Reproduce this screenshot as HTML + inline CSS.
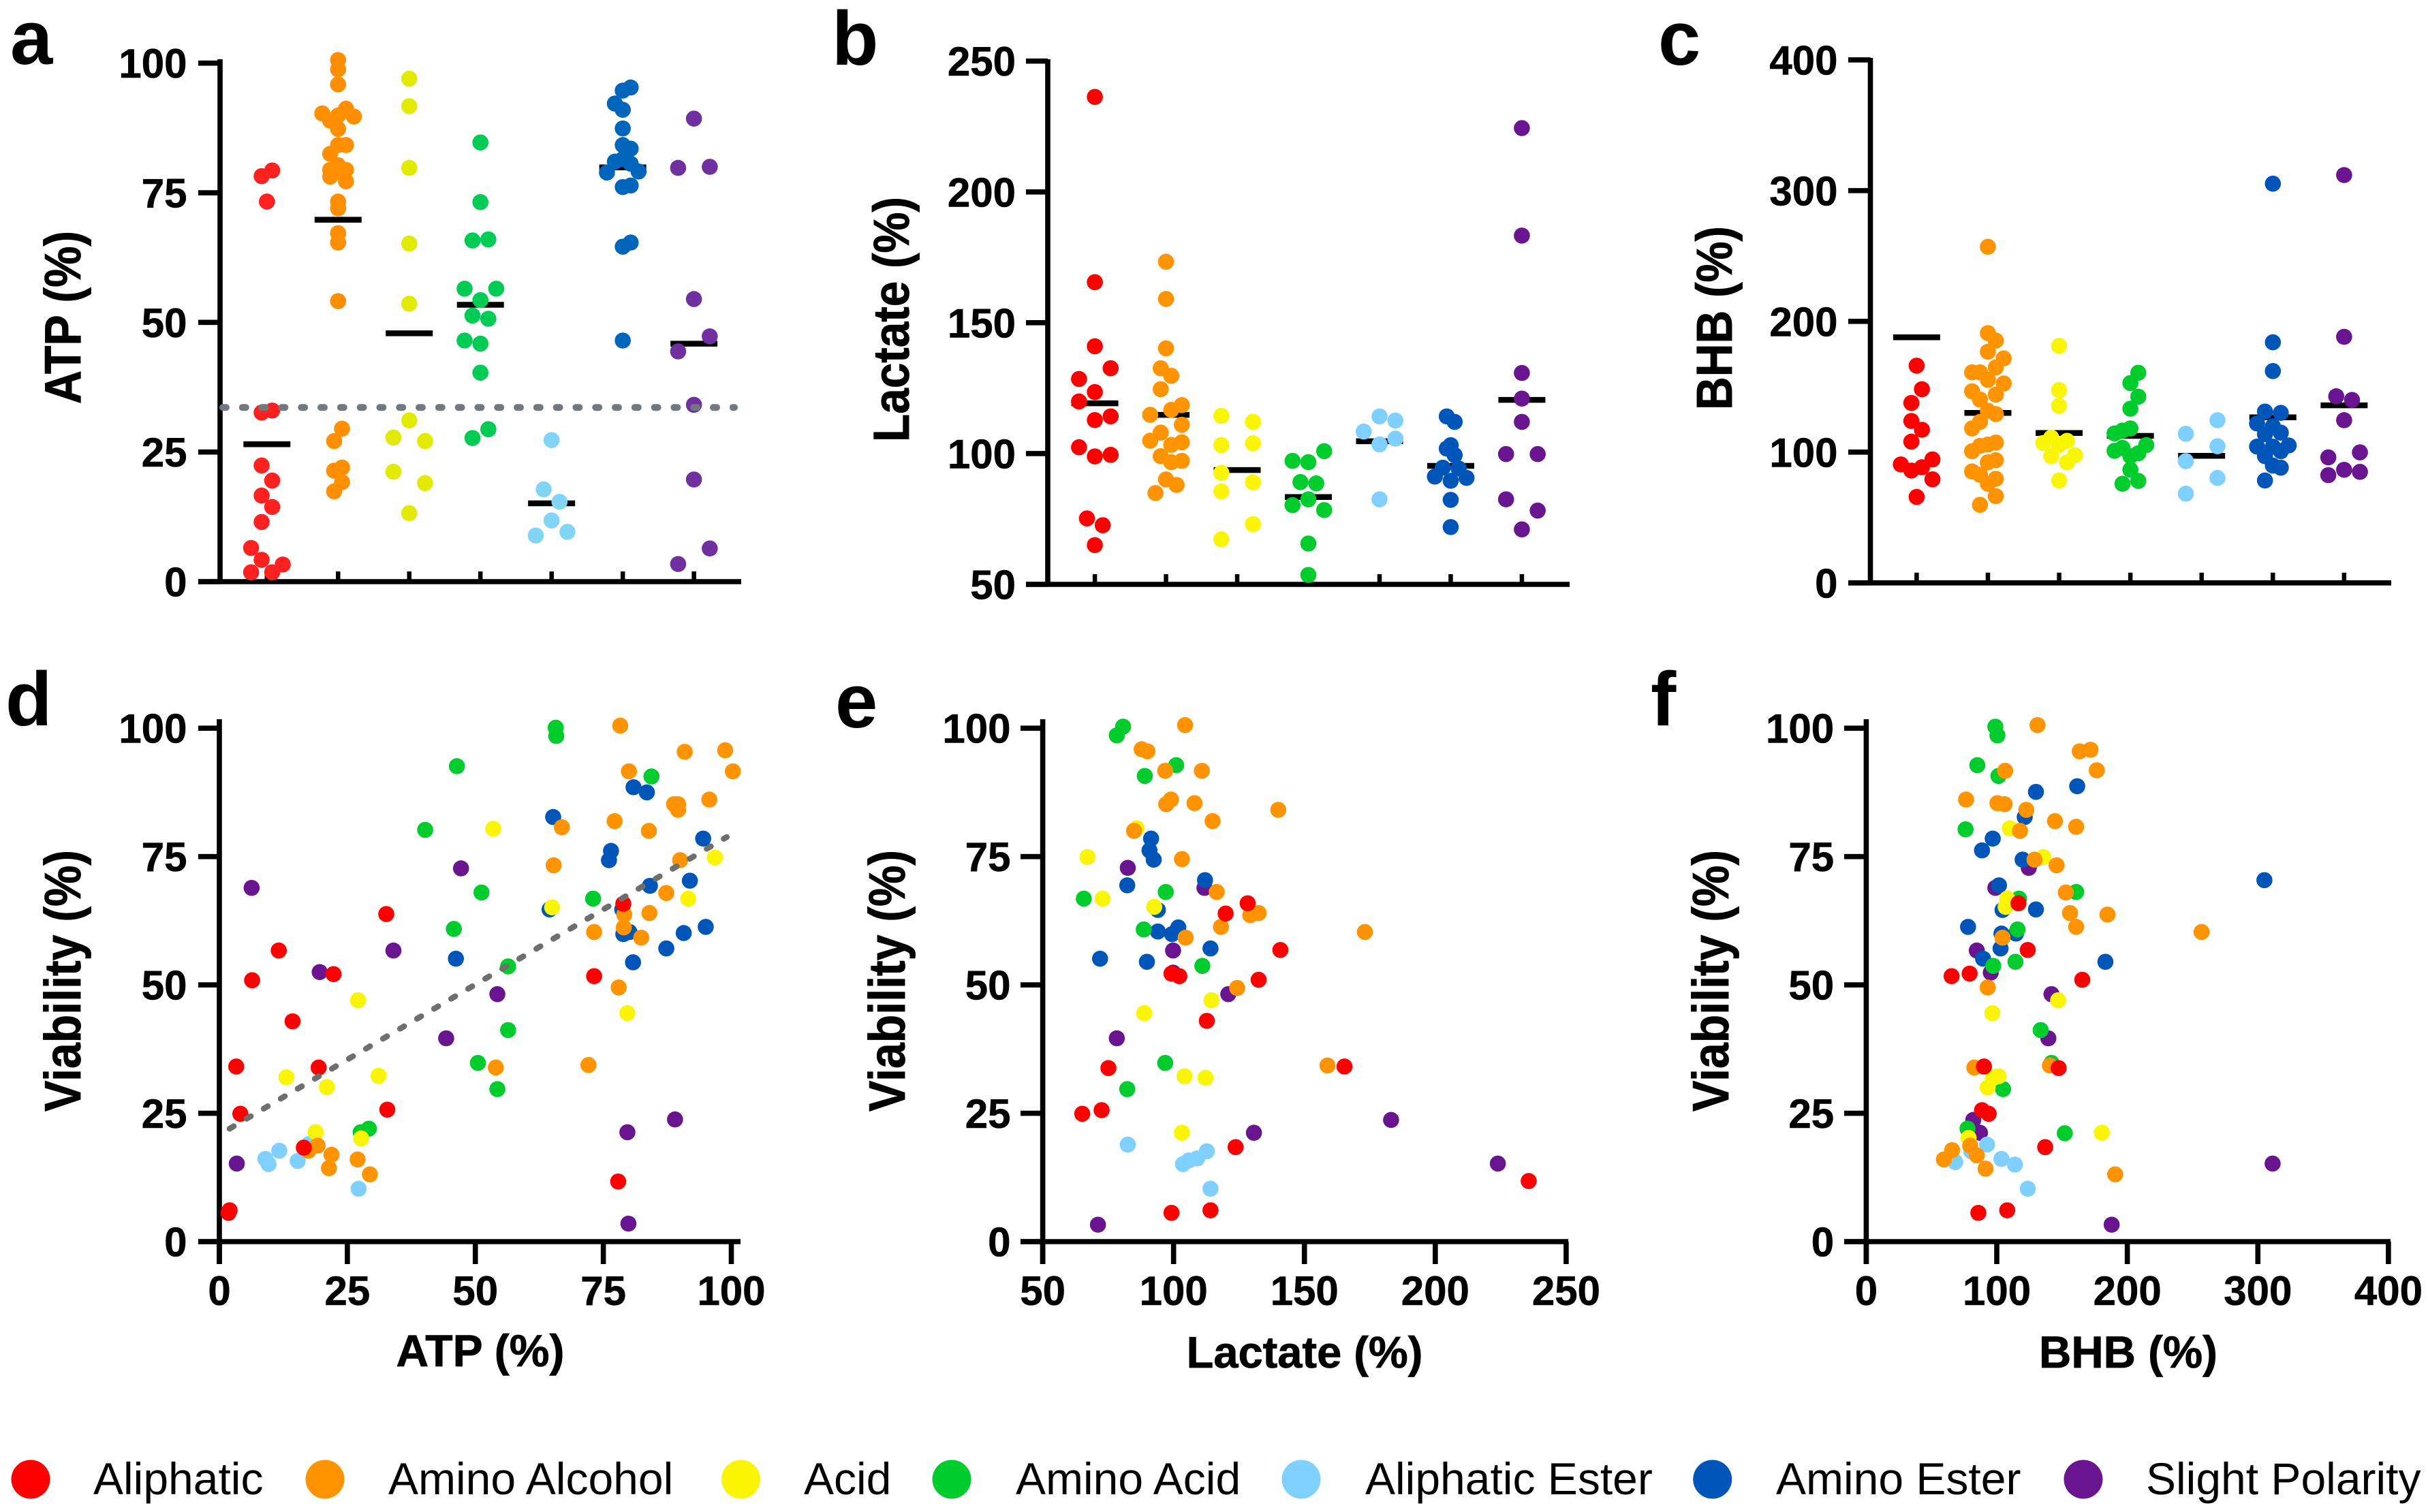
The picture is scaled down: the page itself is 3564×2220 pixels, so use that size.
<!DOCTYPE html>
<html lang="en">
<head>
<meta charset="utf-8">
<title>Viability, ATP, Lactate and BHB by lipid class</title>
<style>
html,body{margin:0;padding:0;background:#fff;}
svg{display:block;font-family:"Liberation Sans",Arial,sans-serif;}
.title{font-weight:700;font-size:68px;fill:#000;stroke:#000;stroke-width:.8px;}
.letter{font-weight:700;font-size:112px;fill:#000;}
.legend-text{font-size:66px;fill:#000;}
</style>
</head>
<body>
<svg id="figure" xmlns="http://www.w3.org/2000/svg" width="3564" height="2220" viewBox="0 0 3564 2220">
  <rect x="0" y="0" width="3564" height="2220" fill="#fff"/>

  <text class="letter" x="15" y="94">a</text>
  <text class="letter" x="1221" y="95">b</text>
  <text class="letter" x="2434" y="95">c</text>
  <text class="letter" x="8" y="1065">d</text>
  <text class="letter" x="1226" y="1068">e</text>
  <text class="letter" x="2423" y="1065">f</text>

  <text class="title" text-anchor="middle" transform="translate(118,466) rotate(-90) scale(1,1.1)">ATP (%)</text>
  <text class="title" text-anchor="middle" transform="translate(1334,469) rotate(-90) scale(1,1.1)" style="font-size:67.5px">Lactate (%)</text>
  <text class="title" text-anchor="middle" transform="translate(2542,467) rotate(-90) scale(1,1.1)" style="font-size:67.5px">BHB (%)</text>
  <text class="title" text-anchor="middle" transform="translate(118,1440) rotate(-90) scale(1,1.1)">Viability (%)</text>
  <text class="title" text-anchor="middle" transform="translate(1328,1440) rotate(-90) scale(1,1.1)">Viability (%)</text>
  <text class="title" text-anchor="middle" transform="translate(2537,1440) rotate(-90) scale(1,1.1)">Viability (%)</text>
  <text class="title" text-anchor="middle" x="705" y="2006" style="font-size:66px">ATP (%)</text>
  <text class="title" text-anchor="middle" x="1915" y="2008" style="font-size:65px">Lactate (%)</text>
  <text class="title" text-anchor="middle" x="3124" y="2008" style="font-size:65.5px">BHB (%)</text>

  <g id="plots"></g>

  <g>
    <g><circle cx="45" cy="2172" r="28.5" fill="#ff0000"/><text class="legend-text" x="137" y="2194">Aliphatic</text></g>
    <g><circle cx="477" cy="2172" r="28.5" fill="#ff9300"/><text class="legend-text" x="570" y="2194">Amino Alcohol</text></g>
    <g><circle cx="1087.5" cy="2172" r="28.5" fill="#faf500"/><text class="legend-text" x="1180" y="2194">Acid</text></g>
    <g><circle cx="1397" cy="2172" r="28.5" fill="#00cc2e"/><text class="legend-text" x="1491" y="2194">Amino Acid</text></g>
    <g><circle cx="1910" cy="2172" r="28.5" fill="#80d0ff"/><text class="legend-text" x="2004" y="2194">Aliphatic Ester</text></g>
    <g><circle cx="2513.7" cy="2172" r="28.5" fill="#0056b8"/><text class="legend-text" x="2607" y="2194">Amino Ester</text></g>
    <g><circle cx="3058" cy="2172" r="28.5" fill="#6a1590"/><text class="legend-text" x="3150" y="2194">Slight Polarity</text></g>
  </g>
</svg>

<script>
// ---------- shared categories and tick labels ----------
const classNames = ['aliphatic','amino-alcohol','acid','amino-acid','aliphatic-ester','amino-ester','slight-polarity'];
const atpTicks = [0,25,50,75,100];
const lactateTicks = [50,100,150,200,250];
const bhbTicks = [0,100,200,300,400];
const viabilityTicks = [0,25,50,75,100];

// ---------- panel a: ATP by class (values, then swarm slot of each point) ----------
const atpAliphatic = [79.3,78.2,73.3,33.0,32.6,22.4,19.5,16.6,14.4,11.5,6.5,4.2,3.3,1.8,1.8];
const atpAliphaticSlots = [2,-2,0,2,-2,-2,2,-2,2,-2,-6,-2,6,-6,2];
const atpAminoAlcohol = [100.6,98.8,95.9,91.2,90.3,89.9,89.7,88.9,87.3,84.2,84.2,82.5,80.3,79.4,79.4,79.1,78.1,77.2,73.3,72,67.2,65.4,54.1,29.5,27.1,22,21.4,19.2,17.4];
const atpAminoAlcoholSlots = [0,0,0,3,-6,0,6,-3,0,0,3,-3,0,3,-3,0,-3,3,0,0,0,0,0,1.5,-1.5,1.5,-1.5,1.5,-1.5];
const atpAcid = [97,91.7,79.8,65.2,53.6,31.1,27.8,27.1,21.2,19,13.2];
const atpAcidSlots = [0,0,0,0,0,0,-6,6,-6,6,0];
const atpAminoAcid = [84.7,73.2,65.8,66,56.5,56.5,54.3,51.3,50.7,46.5,45.9,40.3,29.4,27.7];
const atpAminoAcidSlots = [0,0,-3,3,-6,6,0,-3,3,-6,0,0,3,-3];
const atpAliphaticEster = [27.3,17.8,15.4,11.8,9.6,8.9];
const atpAliphaticEsterSlots = [0,-3,3,0,6,-6];
const atpAminoEster = [95.3,94.7,92.2,91,87.4,84.2,83.5,81,80.6,81.5,79.1,78.9,76.4,76.1,65.4,64.6,46.5];
const atpAminoEsterSlots = [3,0,-3,0,0,0,3,-3,3,0,6,-6,3,0,3,0,0];
const atpSlightPolarity = [89.3,79.8,80,54.5,47.3,44.4,34.1,19.7,6.4,3.4];
const atpSlightPolaritySlots = [0,-6,6,0,6,-6,0,0,6,-6];
const atpMeans = [26.5,69.8,47.9,53.4,15.1,79.9,45.9];
const atpThreshold = [33.6];

// ---------- panel b: Lactate by class ----------
const lactateAliphatic = [236.3,165.5,141,132.6,128.5,123.5,119.9,114.2,112.8,102.4,99.5,98.9,75.2,72.6,65];
const lactateAliphaticSlots = [0,0,0,6,-6,0,-6,6,0,-6,6,0,-3,3,0];
const lactateAminoAlcohol = [173.3,159.1,140.2,132.6,129.7,124.6,118.5,116.7,114.8,111,108,104.9,104.3,103.3,99,97.2,96.7,90.1,88,84.9];
const lactateAminoAlcoholSlots = [0,0,0,-2,2,-2,6,2,-6,6,-2,-6,6,2,-2,6,2,0,4,-4];
const lactateAcid = [114.4,112.1,103.2,103.9,92.6,89,85.5,73,67.2];
const lactateAcidSlots = [-6,6,-6,6,-6,6,-6,6,-6];
const lactateAminoAcid = [100.9,97.2,96.7,89.1,88.6,82.5,80.3,78.4,65.6,53.6];
const lactateAminoAcidSlots = [6,-6,0,-3,3,0,-6,6,0,0];
const lactateAliphaticEster = [114.2,112.6,108.4,105.7,103.5,82.5];
const lactateAliphaticEsterSlots = [0,6,-6,6,0,0];
const lactateAminoEster = [114.2,112.1,103.2,101.9,99.4,94.6,94.3,91.2,90.7,89.6,82.3,71.9];
const lactateAminoEsterSlots = [-1.5,1.5,0,-1.5,1.5,-3,3,-6,6,0,0,0];
const lactateSlightPolarity = [224.4,183.3,130.8,121,112.1,99.8,99.8,82.5,78.2,71];
const lactateSlightPolaritySlots = [0,0,0,0,0,-6,6,-6,6,0];
const lactateMeans = [119.2,114.8,93.7,83.4,104.7,95.3,120.5];

// ---------- panel c: BHB by class ----------
const bhbAliphatic = [166.1,148.1,137.6,123.8,117.1,108,94.4,90.6,88.4,85.9,79.2,65.7];
const bhbAliphaticSlots = [0,2,-2,-2,2,-2,6,-6,2,-2,6,0];
const bhbAminoAlcohol = [257,191,185.3,176.8,171.7,164.8,161,161,155.3,152.5,146.5,144,140.2,131.6,129.1,123.1,118.1,107.3,105.8,104.8,100.7,93.8,92.2,85.2,82.7,79.6,75.8,66.3,59.7];
const bhbAminoAlcoholSlots = [0,0,3,0,6,3,-3,-6,0,6,-6,3,-3,0,3,-3,-6,3,0,-3,-6,3,0,-6,-3,3,0,3,-3];
const bhbAcid = [181.2,147.4,135.4,111.1,108.6,107,105.4,97.6,96.9,92.2,78.3];
const bhbAcidSlots = [0,0,0,-3,3,-6,0,6,-3,3,0];
const bhbAminoAcid = [160.7,152.8,142.4,133.2,118.1,116.5,114.3,103.2,101,105.4,99.1,96.9,86.5,78,75.8];
const bhbAminoAcidSlots = [3,0,3,0,0,-3,-6,-3,-6,6,3,0,0,3,-3];
const bhbAliphaticEster = [124.4,114,104.5,93.1,80.2,68.2];
const bhbAliphaticEsterSlots = [6,-6,6,-6,6,-6];
const bhbAminoEster = [305.3,184,162,131,130,121.9,119.7,114.9,113.7,105.1,104.2,104.2,100.7,96.9,89.7,88.1,78.3];
const bhbAminoEsterSlots = [0,0,0,-3,3,-6,0,3,-3,6,-6,0,3,-3,0,3,-3];
const bhbSlightPolarity = [311.9,188.2,142.7,139.9,124.4,99.8,96,86.5,84.9,82.4];
const bhbSlightPolaritySlots = [0,0,-3,3,0,6,-6,0,6,-6];
const bhbMeans = [187.8,130,114.6,112.4,97.2,126.6,135.8];

// ---------- panel d: viability vs ATP ----------
const dAliphaticX = [1.8,2,77.9,3.3,4.1,6.4,11.6,14.3,16.5,19.4,22.3,32.6,32.8,73.2,78.9];
const dAliphaticY = [5.6,6.1,11.7,34.1,24.9,50.9,56.7,42.9,18.3,33.9,52.1,63.8,25.7,51.7,65.8];
const dAminoAlcoholX = [78.3,90.9,98.8,100.3,80,88.8,89.6,89.6,95.7,83.9,77.2,66.9,65.3,90,87.3,84,79.1,79,73.2,82.4,78,72.1,54,19.2,17.4,21.9,27,21.4,29.4];
const dAminoAlcoholY = [100.5,95.4,95.7,91.6,91.6,85.2,85.2,84.1,86.1,80,81.9,80.7,73.3,74.3,67.9,64,63.7,61.2,60.3,59.2,49.5,34.4,33.9,18.7,17.7,16.9,16,14.3,13.1];
const dAcidX = [53.5,96.8,91.6,65,27.1,79.7,13.1,31.1,21,18.8,27.7];
const dAcidY = [80.4,74.8,66.8,65.1,47,44.5,32,32.3,30.1,21.3,20.1];
const dAminoAcidX = [65.7,65.8,46.4,84.4,40.2,51.2,73,45.8,56.4,56.4,50.5,54.3,29.2,27.6];
const dAminoAcidY = [100.1,98.5,92.6,90.6,80.2,68,66.8,60.9,53.6,41.2,34.8,29.7,22,21.3];
const dAliphaticEsterX = [17.5,11.7,9,9.6,15.3,27.2];
const dAliphaticEsterY = [19,17.7,16.1,15.1,15.7,10.3];
const dAminoEsterX = [80.9,83.5,65.2,94.5,76.5,76.1,91.9,84.1,64.5,78.7,95,90.7,80.1,78.9,87.3,46.2,80.8];
const dAminoEsterY = [88.5,87.5,82.7,78.5,76.1,74.3,70.3,69.3,64.7,64.7,61.3,60.1,60.3,59.9,57.1,55.1,54.4];
const dSlightPolarityX = [6.3,47.2,34,19.6,54.3,44.3,89,79.7,3.4,79.9];
const dSlightPolarityY = [68.9,72.7,56.7,52.5,48.2,39.6,23.8,21.3,15.2,3.5];
const dFitX = [2,99.1];
const dFitY = [22,78.8];

// ---------- panel e: viability vs Lactate ----------
const eAliphaticX = [235.7,165.3,140.8,128.3,132.5,119.9,123.7,112.7,102.2,99.2,75.1,72.5,65.1,114.1,99.2];
const eAliphaticY = [11.8,34.1,56.8,65.9,51,63.9,18.4,43,51.7,52.2,33.8,25.6,24.9,6.1,5.6];
const eAminoAlcoholX = [104.4,87.8,90,110.8,96.8,99,97.2,108,140,114.9,84.9,103.2,116.5,132.5,129.3,118.1,173.1,104.6,124.3,158.8];
const eAminoAlcoholY = [100.6,95.9,95.5,91.7,91.7,86.1,85.2,85.4,84.1,81.9,80,74.5,68.1,64,63.6,61.3,60.3,59.2,49.4,34.3];
const eAcidX = [85.9,67.1,72.9,92.6,114.5,88.8,104.2,112.2,103.2];
const eAcidY = [80.5,74.9,66.8,65.2,47,44.5,32.2,31.9,21.2];
const eAminoAcidX = [80.7,78.3,101,89,97,65.7,88.6,111,96.8,82.3];
const eAminoAcidY = [100.3,98.6,92.8,90.7,68.1,66.8,60.8,53.7,34.8,29.7];
const eAliphaticEsterX = [82.5,112.7,109,105.8,103.6,114.1];
const eAliphaticEsterY = [18.9,17.6,16.2,15.8,15.1,10.3];
const eAminoEsterX = [91.4,90.8,92.4,82.3,112,94,101.8,94,99.4,114.1,71.9,89.8];
const eAminoEsterY = [78.5,76.2,74.4,69.4,70.4,64.6,61.2,60.4,59.9,57.1,55.1,54.5];
const eSlightPolarityX = [82.5,111.8,99.8,99.8,120.9,78.3,183.1,130.7,223.9,71.1];
const eSlightPolarityY = [72.8,68.9,56.7,52.4,48.2,39.6,23.7,21.2,15.2,3.3];

// ---------- panel f: viability vs BHB ----------
const fAliphaticX = [116.6,123.7,165.5,65.4,79.2,90.2,147.4,88.7,93.8,137.1,85.9,108];
const fAliphaticY = [65.9,56.8,51,51.7,52.2,34.1,33.8,25.6,24.9,18.4,5.6,6.1];
const fAminoAlcoholX = [131.2,163.5,171.8,106.4,176.6,76.5,100.5,106,122.6,144.6,160.8,117.8,128.9,145.8,152.9,156.1,184.8,160.8,256.9,104.4,93,82.8,140.7,79.6,65.8,84.7,59.5,91.4,190.7];
const fAminoAlcoholY = [100.6,95.5,95.8,91.7,91.8,86.1,85.4,85.2,84.1,81.9,80.8,80,74.4,73.3,68,64,63.7,61.3,60.3,59.2,49.5,33.9,34.3,18.7,17.8,16.8,16,14.2,13.1];
const fAcidX = [110,135.6,108,106.8,147,96.6,101.3,97.3,93,180.5,78.4];
const fAcidY = [80.5,74.9,66.8,65.2,47,44.5,32.2,31.9,30,21.2,20.2];
const fAminoAcidX = [98.9,100.5,85.1,101.3,76.1,160.8,117,115.9,114.3,97.3,133.6,141.9,104.8,77.6,152.1];
const fAminoAcidY = [100.3,98.6,92.8,90.7,80.3,68.1,66.8,60.8,54.5,53.7,41.2,34.8,29.7,22,21.1];
const fAliphaticEsterX = [92.6,80.4,103.6,113.9,68.2,123.7];
const fAliphaticEsterY = [18.9,17.6,16.1,15,15.5,10.3];
const fAminoEsterX = [161.6,130,121.4,96.9,88.7,119.8,305,101.7,130,104.4,78,103.6,114.7,102.9,89.5,183.2];
const fAminoEsterY = [88.7,87.6,82.7,78.5,76.2,74.4,70.4,69.4,64.7,64.6,61.3,60,60,57.1,55.1,54.5];
const fSlightPolarityX = [124.5,98.9,84.7,95.4,141.9,139.5,82,87.1,311.3,188];
const fSlightPolarityY = [72.8,68.9,56.7,52.4,48.2,39.6,23.7,21.2,15.2,3.3];

// ---------- drawing ----------
const NS = 'http://www.w3.org/2000/svg';
const plots = document.getElementById('plots');
const paletteTopLeft = ['#ff2020','#ff8f00','#e2ea00','#00cc55','#82d5f5','#0066bb','#7030a0'];
const palette = ['#ff0000','#ff9300','#faf500','#00cc2e','#80d0ff','#0056b8','#6a1590'];
const SW = 7.6, DOT = 11.8, SLOT = 3.87, MEAN_HALF = 34.5, MEAN_W = 8.5;
const DRAW_ORDER = [6,5,4,3,2,1,0];

function linear(d0, d1, r0, r1) {
  return function (v) { return r0 + (v - d0) * (r1 - r0) / (d1 - d0); };
}
function shape(tag, attrs, parent) {
  const el = document.createElementNS(NS, tag);
  for (const k in attrs) el.setAttribute(k, attrs[k]);
  
  (parent || plots).appendChild(el);
  return el;
}
function line(x1, y1, x2, y2, parent, width, color) {
  return shape('line', {x1: x1, y1: y1, x2: x2, y2: y2, stroke: color || '#000', 'stroke-width': width || SW}, parent);
}
function label(str, x, y, anchor, parent) {
  const el = shape('text', {x: x, y: y, 'text-anchor': anchor, 'font-size': 60, 'font-weight': 700, fill: '#000', stroke: '#000', 'stroke-width': 0.6}, parent);
  el.textContent = str;
  return el;
}
function group(name) {
  const g = shape('g', {});
  
  return g;
}
function yAxis(g, sy, ticks, x, left, top, bottom, labelRight) {
  const axis = line(x, top, x, bottom, g);
  
  ticks.forEach(function (t) {
    const tk = line(left, sy(t), x, sy(t), g);
    
    const tl = label(String(t), labelRight + 2.5, sy(t) + 21.5, 'end', g);
    
  });
}
function swarmPanel(name, ticks, d0, d1, px0, px1, axisX, tickLeft, axisTop, axisRight, labelRight, firstCenter, step, means, values, slots, colors) {
  const g = group(name);
  const sy = linear(d0, d1, px0, px1);
  const cx = function (i) { return firstCenter + i * step; };
  yAxis(g, sy, ticks, axisX, tickLeft, axisTop, px0 + 3.5, labelRight);
  const xAxis = line(tickLeft, px0, axisRight, px0, g);
  
  classNames.forEach(function (c, i) {
    const tk = line(cx(i), px0, cx(i), px0 - 15, g, 6.5);
    
  });
  means.forEach(function (m, i) {
    const bar = line(cx(i) - MEAN_HALF, sy(m), cx(i) + MEAN_HALF, sy(m), g, MEAN_W);
    
  });
  DRAW_ORDER.forEach(function (i) {
    values[i].forEach(function (v, j) {
      const dot = shape('circle', {cx: cx(i) + slots[i][j] * SLOT, cy: sy(v), r: DOT, fill: colors[i]}, g);
      
    });
  });
  return {g: g, sy: sy};
}
function scatterPanel(name, xTicks, x0, x1, pxA, pxB, labelRight, tickLeft, axisRight, xs, ys) {
  const g = group(name);
  const sx = linear(x0, x1, pxA, pxB);
  const sy = linear(0, 100, 1823, 1069.2);
  yAxis(g, sy, viabilityTicks, pxA, tickLeft, 1056, 1856, labelRight);
  const xAxis = line(tickLeft, sy(0), axisRight, sy(0), g);
  
  xTicks.forEach(function (t) {
    const tk = line(sx(t), sy(0), sx(t), 1856, g);
    
    const tl = label(String(t), sx(t), 1916, 'middle', g);
    
  });
  DRAW_ORDER.forEach(function (i) {
    xs[i].forEach(function (v, j) {
      const dot = shape('circle', {cx: sx(v), cy: sy(ys[i][j]), r: DOT, fill: palette[i]}, g);
      
    });
  });
  return {g: g, sx: sx, sy: sy};
}

const panelA = swarmPanel('panel-a-atp', atpTicks, 0, 100, 854, 92.7, 323, 291, 87, 1088, 272, 391.8, 104.47, atpMeans,
  [atpAliphatic, atpAminoAlcohol, atpAcid, atpAminoAcid, atpAliphaticEster, atpAminoEster, atpSlightPolarity],
  [atpAliphaticSlots, atpAminoAlcoholSlots, atpAcidSlots, atpAminoAcidSlots, atpAliphaticEsterSlots, atpAminoEsterSlots, atpSlightPolaritySlots],
  paletteTopLeft);
const threshold = shape('line', {x1: 327, x2: 1078, y1: panelA.sy(atpThreshold[0]), y2: panelA.sy(atpThreshold[0]), stroke: '#737880', 'stroke-width': 10, 'stroke-linecap': 'round', 'stroke-dasharray': '5 23.8'}, panelA.g);


swarmPanel('panel-b-lactate', lactateTicks, 50, 250, 858, 89.7, 1538, 1506, 87, 2304, 1488.5, 1607.1, 104.47, lactateMeans,
  [lactateAliphatic, lactateAminoAlcohol, lactateAcid, lactateAminoAcid, lactateAliphaticEster, lactateAminoEster, lactateSlightPolarity],
  [lactateAliphaticSlots, lactateAminoAlcoholSlots, lactateAcidSlots, lactateAminoAcidSlots, lactateAliphaticEsterSlots, lactateAminoEsterSlots, lactateSlightPolaritySlots],
  palette);

swarmPanel('panel-c-bhb', bhbTicks, 0, 400, 855.8, 87.9, 2745.5, 2713, 85, 3510, 2695, 2813.4, 104.58, bhbMeans,
  [bhbAliphatic, bhbAminoAlcohol, bhbAcid, bhbAminoAcid, bhbAliphaticEster, bhbAminoEster, bhbSlightPolarity],
  [bhbAliphaticSlots, bhbAminoAlcoholSlots, bhbAcidSlots, bhbAminoAcidSlots, bhbAliphaticEsterSlots, bhbAminoEsterSlots, bhbSlightPolaritySlots],
  palette);

const panelD = scatterPanel('panel-d-viability-atp', atpTicks, 0, 100, 322, 1073.5, 272, 291, 1087,
  [dAliphaticX, dAminoAlcoholX, dAcidX, dAminoAcidX, dAliphaticEsterX, dAminoEsterX, dSlightPolarityX],
  [dAliphaticY, dAminoAlcoholY, dAcidY, dAminoAcidY, dAliphaticEsterY, dAminoEsterY, dSlightPolarityY]);
const fit = shape('line', {x1: panelD.sx(dFitX[0]), y1: panelD.sy(dFitY[0]), x2: panelD.sx(dFitX[1]), y2: panelD.sy(dFitY[1]), stroke: '#6e6e6e', 'stroke-width': 8.5, 'stroke-linecap': 'round', 'stroke-dasharray': '7 22'}, panelD.g);


scatterPanel('panel-e-viability-lactate', lactateTicks, 50, 250, 1530.6, 2298.9, 1481, 1498, 2302,
  [eAliphaticX, eAminoAlcoholX, eAcidX, eAminoAcidX, eAliphaticEsterX, eAminoEsterX, eSlightPolarityX],
  [eAliphaticY, eAminoAlcoholY, eAcidY, eAminoAcidY, eAliphaticEsterY, eAminoEsterY, eSlightPolarityY]);

scatterPanel('panel-f-viability-bhb', bhbTicks, 0, 400, 2739.4, 3505.9, 2689.6, 2707, 3509,
  [fAliphaticX, fAminoAlcoholX, fAcidX, fAminoAcidX, fAliphaticEsterX, fAminoEsterX, fSlightPolarityX],
  [fAliphaticY, fAminoAlcoholY, fAcidY, fAminoAcidY, fAliphaticEsterY, fAminoEsterY, fSlightPolarityY]);
</script>
</body>
</html>
